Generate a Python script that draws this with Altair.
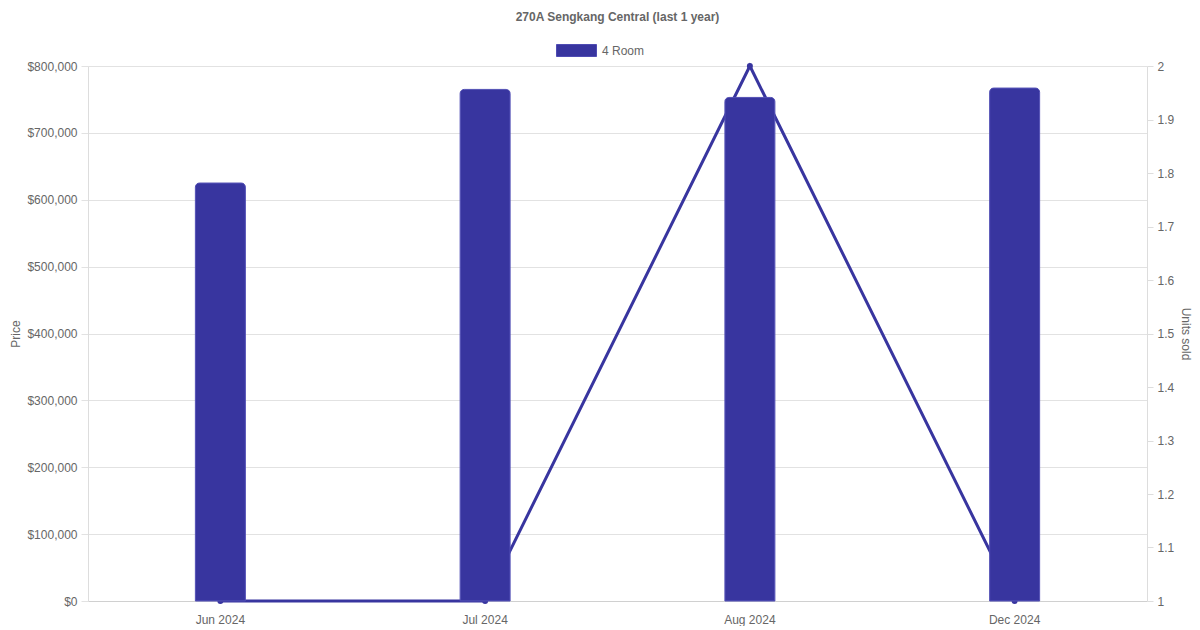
import altair as alt
import pandas as pd

months = ["Jun 2024", "Jul 2024", "Aug 2024", "Dec 2024"]
prices = [625000, 765000, 753000, 767000]
units = [1, 1, 2, 1]
series = ["4 Room"] * 4

df = pd.DataFrame({"month": months, "price": prices, "units": units, "series": series})

COLOR = "#38359f"
TEXT = "#666666"
GRID = "#e2e2e2"

xenc = alt.X(
    "month:N",
    sort=months,
    scale=alt.Scale(paddingInner=0, paddingOuter=0),
    axis=alt.Axis(title=None, labelAngle=0, ticks=False, labelPadding=13,
                  domainColor="#d0d0d0", grid=False, labelColor=TEXT, labelFontSize=12),
)

line = alt.Chart(df).mark_line(
    color=COLOR, strokeWidth=3, clip=False,
    point=alt.OverlayMarkDef(size=36, filled=True, color=COLOR),
).encode(
    x=xenc,
    y=alt.Y("units:Q", scale=alt.Scale(domain=[1, 2], nice=False, zero=False),
            axis=alt.Axis(orient="right", title="Units sold", values=[1, 1.1, 1.2, 1.3, 1.4, 1.5, 1.6, 1.7, 1.8, 1.9, 2],
                          format="~g", grid=False, tickSize=6, labelPadding=4, titlePadding=5,
                          titleAngle=90, labelOverlap=False,
                          domainColor="#dddddd", tickColor="#dddddd",
                          labelColor=TEXT, titleColor=TEXT, labelFontSize=12,
                          titleFontSize=12, titleFontWeight="normal")),
)

bars = alt.Chart(df).mark_bar(
    size=50, cornerRadiusTopLeft=4, cornerRadiusTopRight=4,
    stroke="#4f4cb3", strokeWidth=1,
).encode(
    x=xenc,
    y=alt.Y("price:Q", scale=alt.Scale(domain=[0, 800000], nice=False),
            axis=alt.Axis(orient="left", title="Price", format="$,.0f",
                          values=[0, 100000, 200000, 300000, 400000, 500000, 600000, 700000, 800000],
                          labelOverlap=False,
                          grid=True, gridColor=GRID, tickSize=7, labelPadding=4, titlePadding=4,
                          domainColor="#dddddd", tickColor=GRID,
                          labelColor=TEXT, titleColor=TEXT, labelFontSize=12,
                          titleFontSize=12, titleFontWeight="normal")),
    color=alt.Color("series:N", scale=alt.Scale(range=[COLOR]),
                    legend=alt.Legend(orient="none", legendX=478, legendY=-26, title=None,
                                      symbolType="M-2,-0.6H2V0.6H-2Z", symbolSize=400,
                                      symbolStrokeColor="#4f4cb3", symbolStrokeWidth=1,
                                      labelFontSize=12, labelColor=TEXT, labelOffset=15)),
)

chart = alt.layer(line, bars).resolve_scale(y="independent").properties(
    width=1059,
    height=535,
    autosize=alt.AutoSizeParams(type="none"),
    padding={"left": 80, "top": 58, "right": 45, "bottom": 25},
    title=alt.TitleParams("270A Sengkang Central (last 1 year)", fontSize=12, fontWeight="bold",
                          color=TEXT, anchor="middle", offset=16),
).configure(font="Liberation Sans").configure_view(stroke=None)

chart.save("out.html", embed_options={"renderer": "svg", "actions": False})
